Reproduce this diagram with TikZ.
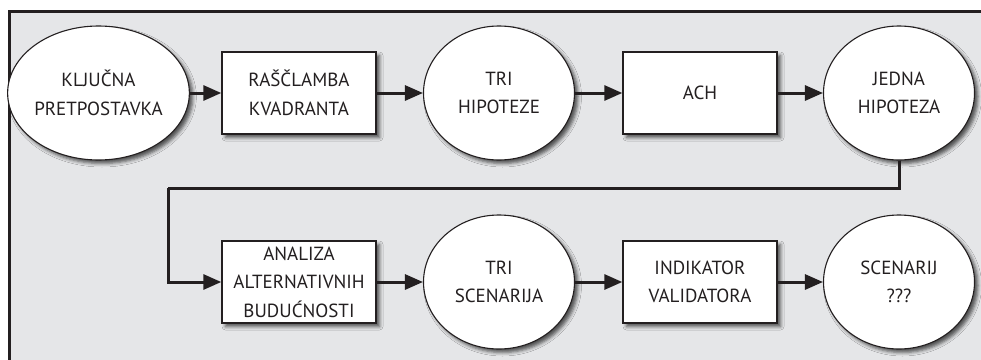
\documentclass[tikz,border=0pt]{standalone}
\usepackage{fontspec}
\setmainfont{PT Sans}
\usetikzlibrary{arrows.meta,shapes.geometric,shadows.blur}
\definecolor{bgray}{HTML}{E5E6E8}
\definecolor{ink}{HTML}{231F20}
\tikzset{
  base/.style={fill=white,draw=ink,align=center,inner sep=0pt,
    font=\fontsize{19}{28.5}\selectfont,text=ink,
    blur shadow={shadow xshift=3.5pt,shadow yshift=-3.5pt,shadow blur radius=3.5pt,shadow opacity=65}},
  oval/.style={base,ellipse,line width=1.1pt,minimum width=151pt,minimum height=134pt},
  box/.style={base,rectangle,line width=1.4pt,minimum width=154pt,minimum height=82pt},
  conn/.style={draw=ink,line width=3pt,-{Triangle[length=18pt,width=15pt]}},
  wire/.style={draw=ink,line width=3pt},
}
\begin{document}
\begin{tikzpicture}[x=1pt,y=-1pt]
\useasboundingbox (0,0) rectangle (981,359);
\begin{scope}
\clip (0,0) rectangle (981,359);
\fill[bgray] (9,11) rectangle (1000,380);
\draw[draw=ink,line width=3pt] (9,380) -- (9,11) -- (1000,11);
\end{scope}
\node[oval] (kp) at (98.5,93) {KLJUČNA\\PRETPOSTAVKA};
\node[box]  (rk) at (299,93) {RAŠČLAMBA\\KVADRANTA};
\node[oval] (th) at (499,93) {TRI\\HIPOTEZE};
\node[box]  (ach) at (700,93) {ACH};
\node[oval] (jh) at (899,93) {JEDNA\\HIPOTEZA};
\node[box]  (aab) at (299,282) {ANALIZA\\ALTERNATIVNIH\\BUDUĆNOSTI};
\node[oval] (ts) at (499,282) {TRI\\SCENARIJA};
\node[box]  (iv) at (700,282) {INDIKATOR\\VALIDATORA};
\node[oval] (sc) at (899,282) {SCENARIJ\\???};
\coordinate (c1) at (168,188);
\draw[conn] (kp.east) -- (rk.west);
\draw[conn] (rk.east) -- (th.west);
\draw[conn] (th.east) -- (ach.west);
\draw[conn] (ach.east) -- (jh.west);
\draw[wire] (jh.south) |- (c1);
\draw[conn] (c1) |- (aab.west);
\draw[conn] (aab.east) -- (ts.west);
\draw[conn] (ts.east) -- (iv.west);
\draw[conn] (iv.east) -- (sc.west);
\end{tikzpicture}
\end{document}
